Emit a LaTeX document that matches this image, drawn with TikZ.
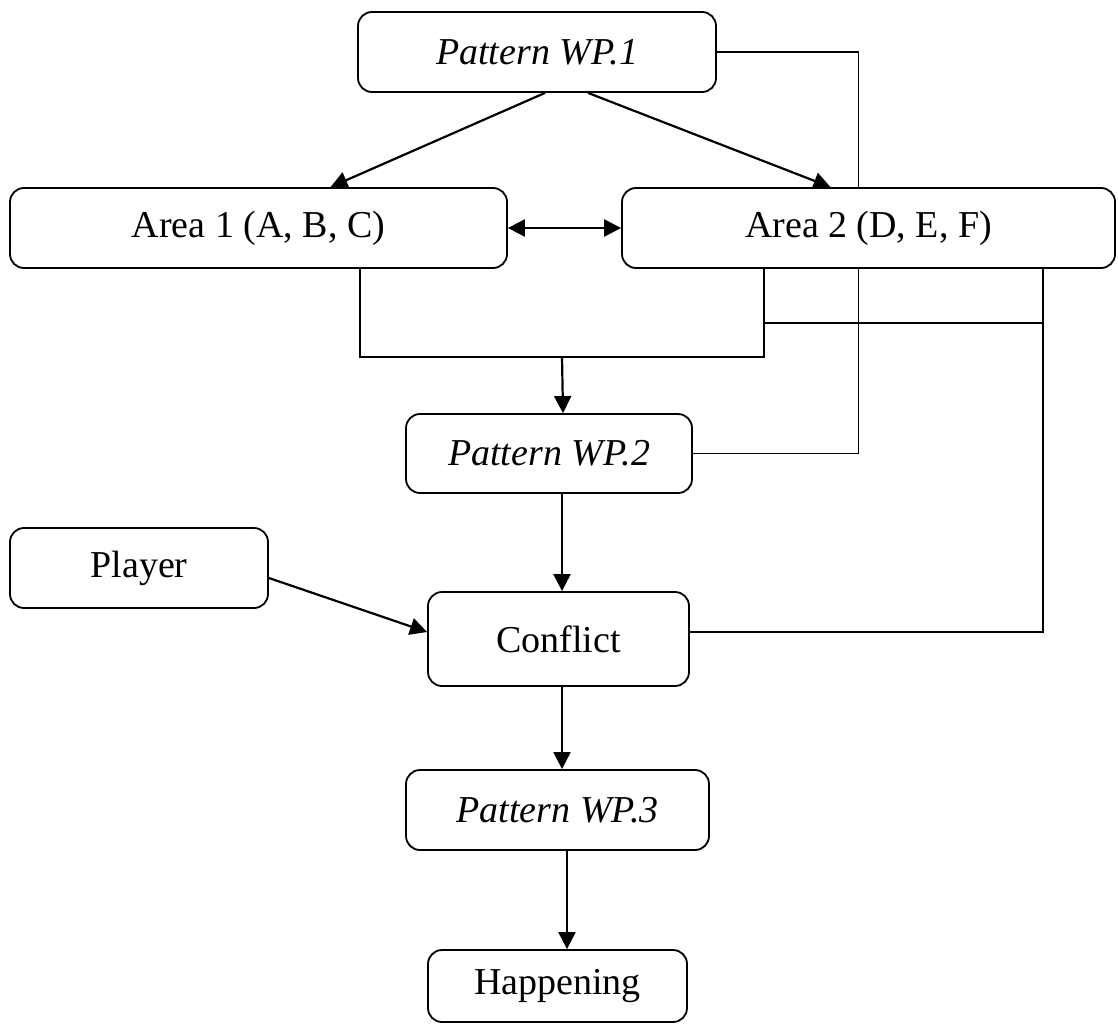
\documentclass[tikz,border=0pt]{standalone}
\usepackage{fontspec}
\setmainfont{Liberation Serif}
\usetikzlibrary{arrows.meta}
\begin{document}
\begin{tikzpicture}[x=1pt,y=-1pt,
  box/.style={draw, line width=1.8pt, rounded corners=14pt, inner sep=0pt,
    font=\fontsize{38}{42}\selectfont},
  arr/.style={line width=2.2pt, -{Triangle[length=17pt,width=17pt]}},
  thickline/.style={line width=2.2pt},
  thinline/.style={line width=1.1pt},
  dblarr/.style={line width=2.2pt, {Triangle[length=17pt,width=17pt]}-{Triangle[length=17pt,width=17pt]}}]
\useasboundingbox (0,0) rectangle (1118,1025);
% nodes
\node[box, minimum width=358pt, minimum height=80pt] (wp1) at (537,52) {\textit{Pattern WP.1}};
\node[box, minimum width=497pt, minimum height=80pt] (area1) at (258.5,228) {Area 1 (A, B, C)};
\node[box, minimum width=493pt, minimum height=80pt] (area2) at (868.5,228) {Area 2 (D, E, F)};
\node[box, minimum width=286pt, minimum height=79pt] (wp2) at (549,453.5) {\textit{Pattern WP.2}};
\node[box, minimum width=258pt, minimum height=80pt] (player) at (139,568) {Player};
\node[box, minimum width=261pt, minimum height=94pt] (conflict) at (558.5,639) {Conflict};
\node[box, minimum width=303pt, minimum height=80pt] (wp3) at (557.5,810) {\textit{Pattern WP.3}};
\node[box, minimum width=259pt, minimum height=72pt] (happening) at (557.5,986) {Happening};
% junction coordinates
\coordinate (b1) at (360,357);
\coordinate (b2) at (764,357);
\coordinate (bm) at (562,357);
\coordinate (ja) at (764,323);
\coordinate (jb) at (1043,323);
% connectors
\draw[arr] ([xshift=8pt]wp1.south) -- ([xshift=72pt]area1.north);
\draw[arr] ([xshift=51pt]wp1.south) -- ([xshift=-38pt]area2.north);
\draw[dblarr] (area1.east) -- (area2.east -| area2.west);
\draw[thinline] (wp1.east) -| ([xshift=-10pt]area2.north);
\draw[thinline] ([xshift=-10pt]area2.south) |- (wp2.east);
\draw[thinline] ([xshift=174.5pt]area2.south) |- ([yshift=7pt]conflict.east);
\draw[thinline] (ja) -- (jb);
\draw[thickline] ([xshift=101.5pt]area1.south) -- (b1) -- (b2) -- ([xshift=-104.5pt]area2.south);
\draw[arr] (bm) -- ([xshift=14pt]wp2.north);
\draw[arr] ([xshift=13pt]wp2.south) -- ([xshift=3.5pt]conflict.north);
\draw[arr] ([yshift=-10pt]player.east) -- ([yshift=7pt]conflict.west);
\draw[arr] ([xshift=3.5pt]conflict.south) -- ([xshift=4.5pt]wp3.north);
\draw[arr] ([xshift=9.5pt]wp3.south) -- ([xshift=9.5pt]happening.north);
\end{tikzpicture}
\end{document}
